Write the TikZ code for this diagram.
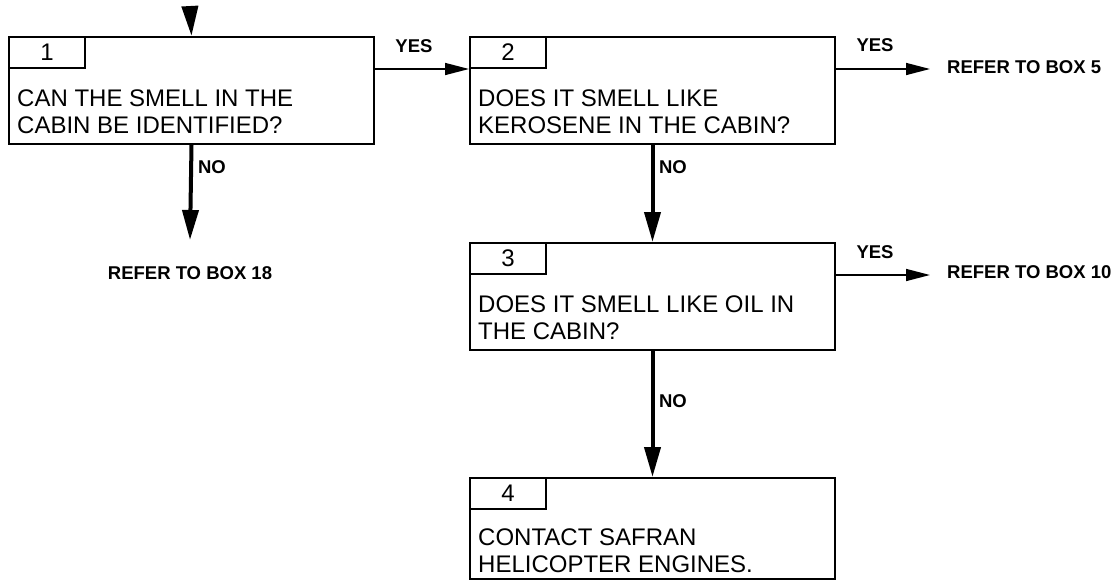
\documentclass[tikz,border=0pt]{standalone}
\usepackage{fontspec}
\setmainfont{Liberation Sans}
\usetikzlibrary{arrows.meta}
\begin{document}
\begin{tikzpicture}[x=1pt,y=-1pt,
 box/.style={draw, line width=2pt, anchor=north west, minimum width=365pt, minimum height=107pt, inner sep=0pt},
 tab/.style={draw, line width=2pt, anchor=north west, minimum width=76pt, minimum height=31pt, inner sep=0pt, font=\fontsize{24}{28}\selectfont},
 btext/.style={anchor=base west, inner sep=0pt, font=\fontsize{24}{28}\selectfont},
 lbl/.style={inner sep=0pt, font=\bfseries\fontsize{18.5}{22}\selectfont},
 varrow/.style={line width=4pt, -{Triangle[length=30pt,width=16pt]}},
 harrow/.style={line width=1.5pt, -{Triangle[length=24pt,width=12pt]}}]
\useasboundingbox (0,0) rectangle (1116,581);

% boxes
\node[box] (b1) at (8,36) {};
\node[tab] (t1) at (b1.north west) {1};
\node[btext] (x1a) at ([xshift=9pt,yshift=-70pt]b1.north west) {CAN THE SMELL IN THE};
\node[btext] (x1b) at ([xshift=9pt,yshift=-97pt]b1.north west) {CABIN BE IDENTIFIED?};

\node[box] (b2) at (469,36) {};
\node[tab] (t2) at (b2.north west) {2};
\node[btext] (x2a) at ([xshift=9pt,yshift=-70pt]b2.north west) {DOES IT SMELL LIKE};
\node[btext] (x2b) at ([xshift=9pt,yshift=-97pt]b2.north west) {KEROSENE IN THE CABIN?};

\node[box] (b3) at (469,242) {};
\node[tab] (t3) at (b3.north west) {3};
\node[btext] (x3a) at ([xshift=9pt,yshift=-70pt]b3.north west) {DOES IT SMELL LIKE OIL IN};
\node[btext] (x3b) at ([xshift=9pt,yshift=-97pt]b3.north west) {THE CABIN?};

\node[box, minimum height=101pt] (b4) at (469,477) {};
\node[tab] (t4) at (b4.north west) {4};
\node[btext] (x4a) at ([xshift=9pt,yshift=-68pt]b4.north west) {CONTACT SAFRAN};
\node[btext] (x4b) at ([xshift=9pt,yshift=-95pt]b4.north west) {HELICOPTER ENGINES.};

% outcome labels
\node[lbl] (r18) at (190,273) {REFER TO BOX 18};
\node[lbl, anchor=west] (r5) at (947,67) {REFER TO BOX 5};
\node[lbl, anchor=west] (r10) at (947,272) {REFER TO BOX 10};

% connector ends
\coordinate (s0) at (190,8);
\coordinate (e18) at (190,240);
\coordinate (e5) at (930,67);
\coordinate (e10) at (930,272);

% connectors
\draw[varrow] (s0) -- (b1.north);
\draw[harrow] (t1.south -| b1.east) -- (t2.south -| b2.west);
\draw[harrow] (t2.south -| b2.east) -- (t2.south -| e5);
\draw[harrow] (t3.south -| b3.east) -- (t3.south -| e10);
\draw[varrow] (b1.south) -- (e18);
\draw[varrow] (b2.south) -- (b3.north);
\draw[varrow] (b3.south) -- (b4.north);

% connector labels
\node[lbl] (y1) at (414,46) {YES};
\node[lbl] (y2) at (875,45) {YES};
\node[lbl] (y3) at (875,252) {YES};
\node[lbl] (n1) at (212,167) {NO};
\node[lbl] (n2) at (673,167) {NO};
\node[lbl] (n3) at (673,401) {NO};
\end{tikzpicture}
\end{document}
